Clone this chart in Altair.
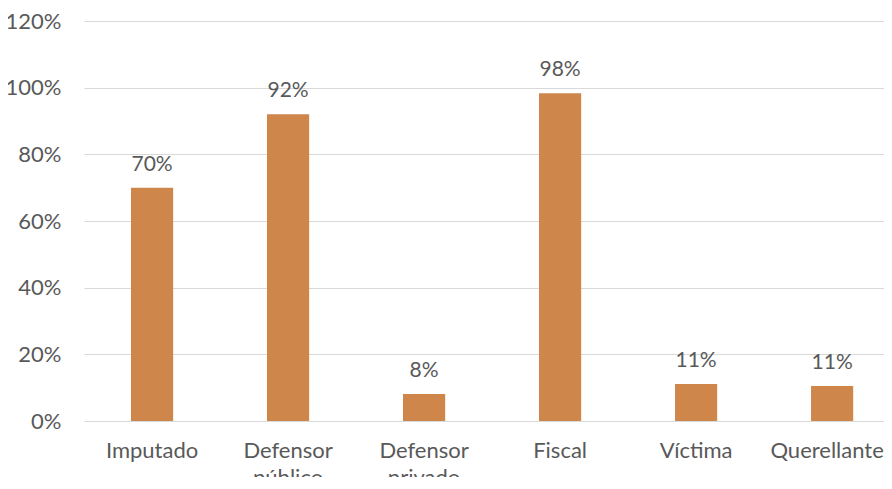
import altair as alt
import pandas as pd

categories = ["Imputado", "Defensor público", "Defensor privado", "Fiscal", "Víctima", "Querellante"]
values = [0.70, 0.92, 0.081, 0.983, 0.111, 0.105]
labels = ["70%", "92%", "8%", "98%", "11%", "11%"]

df = pd.DataFrame({"cat": categories, "val": values, "lab": labels})

FONT = "Lato"
GRAY = "#595959"
BAR = "#CF864B"

x = alt.X(
    "cat:N",
    sort=categories,
    title=None,
    scale=alt.Scale(paddingInner=0.69, paddingOuter=0.286, align=0.604),
    axis=alt.Axis(
        labelAngle=0,
        domain=False,
        ticks=False,
        grid=False,
        gridOpacity=0,
        labelPadding=19,
        labelFont=FONT,
        labelFontSize=22,
        labelColor=GRAY,
        labelLineHeight=27,
        labelOffset={"expr": "datum.label == 'Querellante' ? -5 : 0"},
        labelExpr="split(datum.label, ' ')",
    ),
)

y = alt.Y(
    "val:Q",
    title=None,
    scale=alt.Scale(domain=[0, 1.2], nice=False),
    axis=alt.Axis(
        values=[0, 0.2, 0.4, 0.6, 0.8, 1.0, 1.2],
        format=".0%",
        domain=False,
        ticks=False,
        labelPadding=23,
        labelFont=FONT,
        labelFontSize=22,
        labelColor=GRAY,
        gridColor="#D9D9D9",
        gridWidth=1,
    ),
)

bars = alt.Chart(df).mark_bar(color=BAR).encode(x=x, y=y)

text = alt.Chart(df).mark_text(
    font=FONT, fontSize=21, color=GRAY, baseline="alphabetic", dy=-17
).encode(x=x, y=y, text="lab:N")

chart = (
    alt.layer(bars, text)
    .properties(
        width=800,
        height=400,
        autosize=alt.AutoSizeParams(type="none"),
        padding={"left": 76, "top": 13, "right": 0, "bottom": 56},
        view=alt.ViewBackground(stroke="transparent", strokeWidth=0, strokeOpacity=0),
    )
    .configure_axis(domain=False, ticks=False)
    .configure_view(strokeWidth=0, stroke="transparent", strokeOpacity=0)
    .configure(background="white")
)

chart.save("out.html", embed_options={"renderer": "svg", "actions": False})
